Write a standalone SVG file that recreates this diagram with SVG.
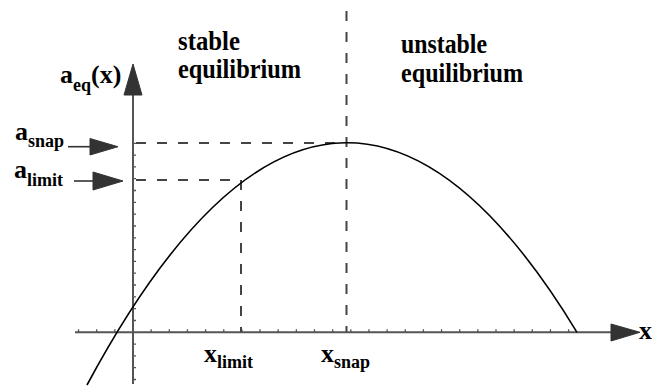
<svg xmlns="http://www.w3.org/2000/svg" width="652" height="388" viewBox="0 0 652 388">
<style>
.axis{stroke:#555;stroke-width:2;fill:none}
.tick{stroke:#555;stroke-width:1.3;fill:none}
.dash{stroke:#444;stroke-width:2;fill:none;stroke-dasharray:10 11}
.curve{stroke:#000;stroke-width:1.6;fill:none}
.head{fill:#333;stroke:#333;stroke-width:1}
.shaft{stroke:#333;stroke-width:1.6;fill:none}
</style>
<rect width="652" height="388" fill="#fff"/>
<g id="axes">
  <path class="axis" d="M75 332.3H612"/>
  <polygon class="head" points="611,324 640,332.3 611,341"/>
  <path class="axis" d="M133 384V94"/>
  <polygon class="head" points="124,95 133,64 142,95"/>
  <path class="tick" d="M78.55 332.3v-3M96.7 332.3v-3M114.85 332.3v-3M151.15 332.3v-3M169.3 332.3v-3M187.45 332.3v-3M205.6 332.3v-3M223.75 332.3v-3M241.9 332.3v-3M260.05 332.3v-3M278.2 332.3v-3M296.35 332.3v-3M314.5 332.3v-3M332.65 332.3v-3M350.8 332.3v-3M368.95 332.3v-3M387.1 332.3v-3M405.25 332.3v-3M423.4 332.3v-3M441.55 332.3v-3M459.7 332.3v-3M477.85 332.3v-3M496 332.3v-3M514.15 332.3v-3M532.3 332.3v-3M550.45 332.3v-3M568.6 332.3v-3"/>
  <path class="tick" d="M133 143.3h3M133 155.1h3M133 166.9h3M133 178.7h3M133 190.5h3M133 202.4h3M133 214.2h3M133 226h3M133 237.8h3M133 249.6h3M133 261.4h3M133 273.2h3M133 285h3M133 296.8h3M133 308.6h3M133 320.5h3M133 344.1h3M133 355.9h3M133 367.7h3M133 379.5h3"/>
</g>
<g id="guides">
  <path class="dash" d="M136 143H347"/>
  <path class="dash" d="M136 180H241"/>
  <path class="dash" d="M241 180V332"/>
  <path class="dash" d="M346.5 11V332"/>
</g>
<g id="curve">
  <path class="curve" d="M87 385Q332 -71.6 577 332.3"/>
</g>
<g id="connectors">
  <path class="shaft" d="M68 146.7H92"/>
  <polygon class="head" points="90,138.5 118,146.7 90,155"/>
  <path class="shaft" d="M74 181H95"/>
  <polygon class="head" points="93,172 123,181 93,190"/>
</g>
<g id="labels" font-family="Liberation Serif" font-weight="bold" font-size="25" fill="#000">
<g id="label-aeq"><text font-family="Liberation Serif" font-weight="bold" font-size="26" x="60" y="83">a<tspan font-size="18" dy="8">eq</tspan><tspan dy="-8">(x)</tspan></text></g>
<g id="label-asnap"><text font-family="Liberation Serif" font-weight="bold" font-size="26" x="15" y="140">a<tspan font-size="18" dy="7">snap</tspan></text></g>
<g id="label-alimit"><text font-family="Liberation Serif" font-weight="bold" font-size="26" x="14" y="178">a<tspan font-size="18" dy="8">limit</tspan></text></g>
<g id="label-xlimit"><text font-family="Liberation Serif" font-weight="bold" font-size="26" x="204" y="361.5">x<tspan font-size="18" dy="6">limit</tspan></text></g>
<g id="label-xsnap"><text font-family="Liberation Serif" font-weight="bold" font-size="26" x="321" y="361.5">x<tspan font-size="18" dy="6">snap</tspan></text></g>
<g id="label-x"><text font-family="Liberation Serif" font-weight="bold" font-size="26" x="639" y="339">x</text></g>
<g id="label-stable"><text font-family="Liberation Serif" font-weight="bold" font-size="27" x="178" y="49.5" textLength="62" lengthAdjust="spacingAndGlyphs">stable</text><text font-family="Liberation Serif" font-weight="bold" font-size="27" x="178" y="78" textLength="123" lengthAdjust="spacingAndGlyphs">equilibrium</text></g>
<g id="label-unstable"><text font-family="Liberation Serif" font-weight="bold" font-size="27" x="401" y="52.5" textLength="86" lengthAdjust="spacingAndGlyphs">unstable</text><text font-family="Liberation Serif" font-weight="bold" font-size="27" x="401" y="82" textLength="122" lengthAdjust="spacingAndGlyphs">equilibrium</text></g>
</g>
</svg>
